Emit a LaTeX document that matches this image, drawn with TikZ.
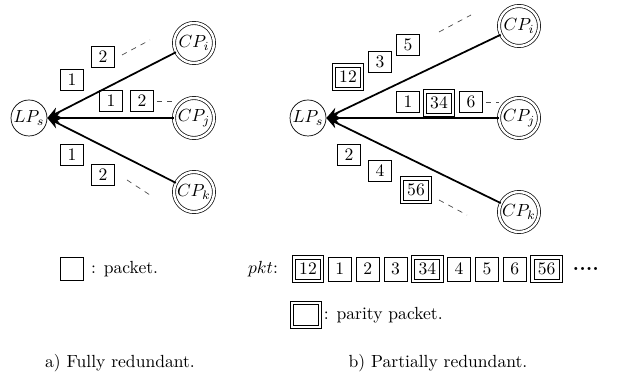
\documentclass[tikz,border=0pt]{standalone}
\usetikzlibrary{arrows.meta,positioning}

\begin{document}
\begin{tikzpicture}[
    font=\normalsize,
    proc/.style={draw, circle, inner sep=0pt, minimum size=0.72cm},
    srv/.style={draw, circle, double, double distance=1.4pt, inner sep=0pt, minimum size=0.80cm},
    pkt/.style={draw, line width=0.5pt, minimum width=0.46cm, minimum height=0.42cm, inner sep=1pt},
    parity/.style={draw, line width=0.5pt, minimum width=0.50cm, minimum height=0.40cm, inner sep=1pt, outer sep=1.9pt,
      append after command={\pgfextra{\draw[line width=0.5pt] (\tikzlastnode.north west) rectangle (\tikzlastnode.south east);}}},
    arrow/.style={-{Stealth[length=7pt,width=6pt]}, line width=1pt},
    trail/.style={dashed, line width=0.4pt, gray!60!black}
]
  \useasboundingbox (0,0) rectangle (12.36,7.54);

  % ---------------------------------------------------------------
  % a) fully redundant
  % ---------------------------------------------------------------
  \node[proc] (lps_a) at (0.58,5.18) {$LP_s$};
  \node[srv] (cpi_a) at (3.88,6.68) {$CP_i$};
  \node[srv] (cpj_a) at (3.88,5.18) {$CP_j$};
  \node[srv] (cpk_a) at (3.88,3.70) {$CP_k$};

  \draw[arrow] (cpi_a) -- (lps_a.east);
  \draw[arrow] (cpj_a) -- (lps_a.east);
  \draw[arrow] (cpk_a) -- (lps_a.east);

  % packets on each link
  \node[pkt] (ai1) at (1.44,5.94) {1};
  \node[pkt] (ai2) at (2.06,6.40) {2};
  \draw[trail] (2.44,6.44) -- (3.00,6.74);

  \node[pkt] (aj1) at (2.22,5.52) {1};
  \node[pkt] (aj2) at (2.84,5.52) {2};
  \draw[trail] (aj2.east) ++(0.06,0) -- ++(0.30,0);

  \node[pkt] (ak1) at (1.44,4.44) {1};
  \node[pkt] (ak2) at (2.06,4.04) {2};
  \draw[trail] (2.54,3.94) -- (3.00,3.64);

  % legend
  \node[pkt, minimum height=0.46cm] (leg_a) at (1.44,2.16) {};
  \node[right=0.02cm of leg_a] (leg_a_txt) {: packet.};

  \node (cap_a) at (2.40,0.28) {a) Fully redundant.};

  % ---------------------------------------------------------------
  % b) partially redundant
  % ---------------------------------------------------------------
  \node[proc] (lps_b) at (6.16,5.18) {$LP_s$};
  \node[srv] (cpi_b) at (10.38,7.02) {$CP_i$};
  \node[srv] (cpj_b) at (10.38,5.18) {$CP_j$};
  \node[srv] (cpk_b) at (10.38,3.30) {$CP_k$};

  \draw[arrow] (cpi_b) -- (lps_b.east);
  \draw[arrow] (cpj_b) -- (lps_b.east);
  \draw[arrow] (cpk_b) -- (lps_b.east);

  \node[parity] (bi12) at (6.96,6.00) {12};
  \node[pkt] (bi3) at (7.60,6.30) {3};
  \node[pkt] (bi5) at (8.16,6.64) {5};
  \draw[trail] (8.78,6.90) -- (9.42,7.24);

  \node[pkt] (bj1) at (8.16,5.50) {1};
  \node[parity] (bj34) at (8.78,5.48) {34};
  \node[pkt] (bj6) at (9.42,5.50) {6};
  \draw[trail] (bj6.east) ++(0.06,0) -- ++(0.26,0);

  \node[pkt] (bk2) at (6.98,4.44) {2};
  \node[pkt] (bk4) at (7.60,4.12) {4};
  \node[parity] (bk56) at (8.32,3.74) {56};
  \draw[trail] (8.78,3.54) -- (9.34,3.24);

  % packet sequence
  \node (seq_lbl) at (5.26,2.16) {$pkt$:};
  \node[parity] (q12) at (6.16,2.16) {12};
  \node[pkt, minimum height=0.48cm, right=0.08cm of q12] (q1) {1};
  \node[pkt, minimum height=0.48cm, right=0.08cm of q1] (q2) {2};
  \node[pkt, minimum height=0.48cm, right=0.08cm of q2] (q3) {3};
  \node[parity, right=0.08cm of q3] (q34) {34};
  \node[pkt, minimum height=0.48cm, right=0.08cm of q34] (q4) {4};
  \node[pkt, minimum height=0.48cm, right=0.08cm of q4] (q5) {5};
  \node[pkt, minimum height=0.48cm, right=0.08cm of q5] (q6) {6};
  \node[parity, right=0.08cm of q6] (q56) {56};
  \node[right=0.08cm of q56, font=\bfseries\large] (qdots) {....};

  % legend
  \node[parity, minimum width=0.50cm, minimum height=0.42cm] (leg_b) at (6.12,1.24) {};
  \node[right=0pt of leg_b, inner sep=1pt] (leg_b_txt) {: parity packet.};

  \node (cap_b) at (8.76,0.28) {b) Partially redundant.};

\end{tikzpicture}
\end{document}
